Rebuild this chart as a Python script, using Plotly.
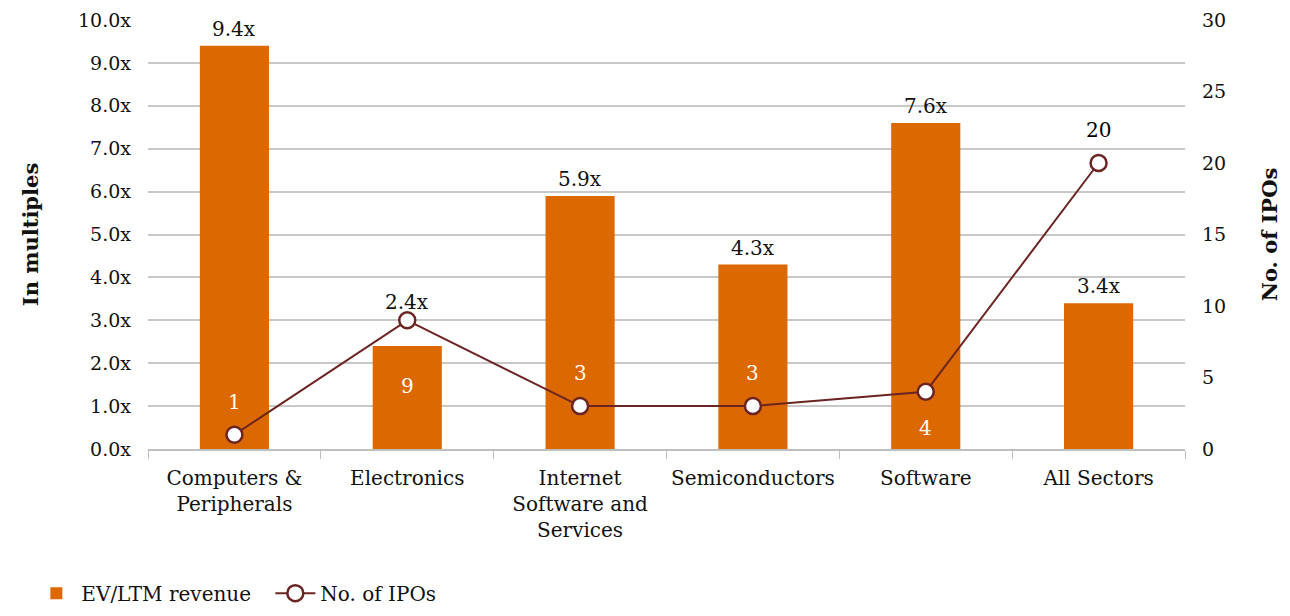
import plotly.graph_objects as go

categories = ["Computers &<br>Peripherals", "Electronics", "Internet<br>Software and<br>Services",
              "Semiconductors", "Software", "All Sectors"]
ev_revenue = [9.4, 2.4, 5.9, 4.3, 7.6, 3.4]
ipo_count = [1, 9, 3, 3, 4, 20]

# label placement (pixels) and colours
bar_label_shift = [17, 44, 17, 17, 17, 17]
ipo_label_shift = [33, -66, 33, 33, -36, 33]
ipo_label_color = ["white", "white", "white", "white", "white", "black"]

ORANGE = "#DB6800"
MAROON = "#6B2422"
FONT = "DejaVu Serif"

fig = go.Figure()
fig.add_trace(go.Bar(x=categories, y=ev_revenue, name="EV/LTM revenue",
                     marker_color=ORANGE, marker_line_width=0))
fig.add_trace(go.Scatter(x=categories, y=ipo_count, name="No. of IPOs", yaxis="y2",
                         mode="lines+markers",
                         line=dict(color=MAROON, width=2),
                         marker=dict(size=16, color="white", line=dict(color=MAROON, width=2.5))))

for c, v, s in zip(categories, ev_revenue, bar_label_shift):
    fig.add_annotation(x=c, y=v, text=f"{v:.1f}x", showarrow=False, yshift=s,
                       font=dict(size=20, color="#111"))
for c, v, s, col in zip(categories, ipo_count, ipo_label_shift, ipo_label_color):
    fig.add_annotation(x=c, y=v, yref="y2", text=str(v), showarrow=False, yshift=s,
                       font=dict(size=20, color=col))

# the page body adds an 8px margin, so the figure is sized to fit inside it
fig.update_layout(
    width=1274, height=600,
    margin=dict(l=140, r=97, t=12, b=159, autoexpand=False),
    paper_bgcolor="white", plot_bgcolor="white",
    font=dict(family=FONT, size=20, color="#111"),
    bargap=0.6,
    showlegend=True,
    legend=dict(orientation="h", x=-0.1125, xanchor="left", y=-0.336, yanchor="middle",
                font=dict(size=20), traceorder="normal", itemwidth=40,
                entrywidth=184, entrywidthmode="pixels"),
    xaxis=dict(showgrid=False, showline=True, linecolor="#bfbfbf", linewidth=1.5,
               ticks="outside", tickson="boundaries", tickcolor="#bfbfbf", ticklen=8,
               ticklabelstandoff=10, tickfont=dict(size=20), automargin=False),
    yaxis=dict(range=[0, 10], dtick=1, tickformat=".1f", ticksuffix="x",
               showgrid=True, gridcolor="#c8c8c8", gridwidth=1.5, zeroline=False,
               ticklabelstandoff=16,
               title=dict(text="<b>In multiples</b>", font=dict(size=21), standoff=33),
               tickfont=dict(size=19), automargin=False),
    yaxis2=dict(range=[0, 30], dtick=5, overlaying="y", side="right", showgrid=False,
                zeroline=False, tickfont=dict(size=19), automargin=False,
                ticklabelstandoff=16,
                title=dict(text="<b>No. of IPOs</b>", font=dict(size=21), standoff=45)),
)

fig.write_html("out.html")
